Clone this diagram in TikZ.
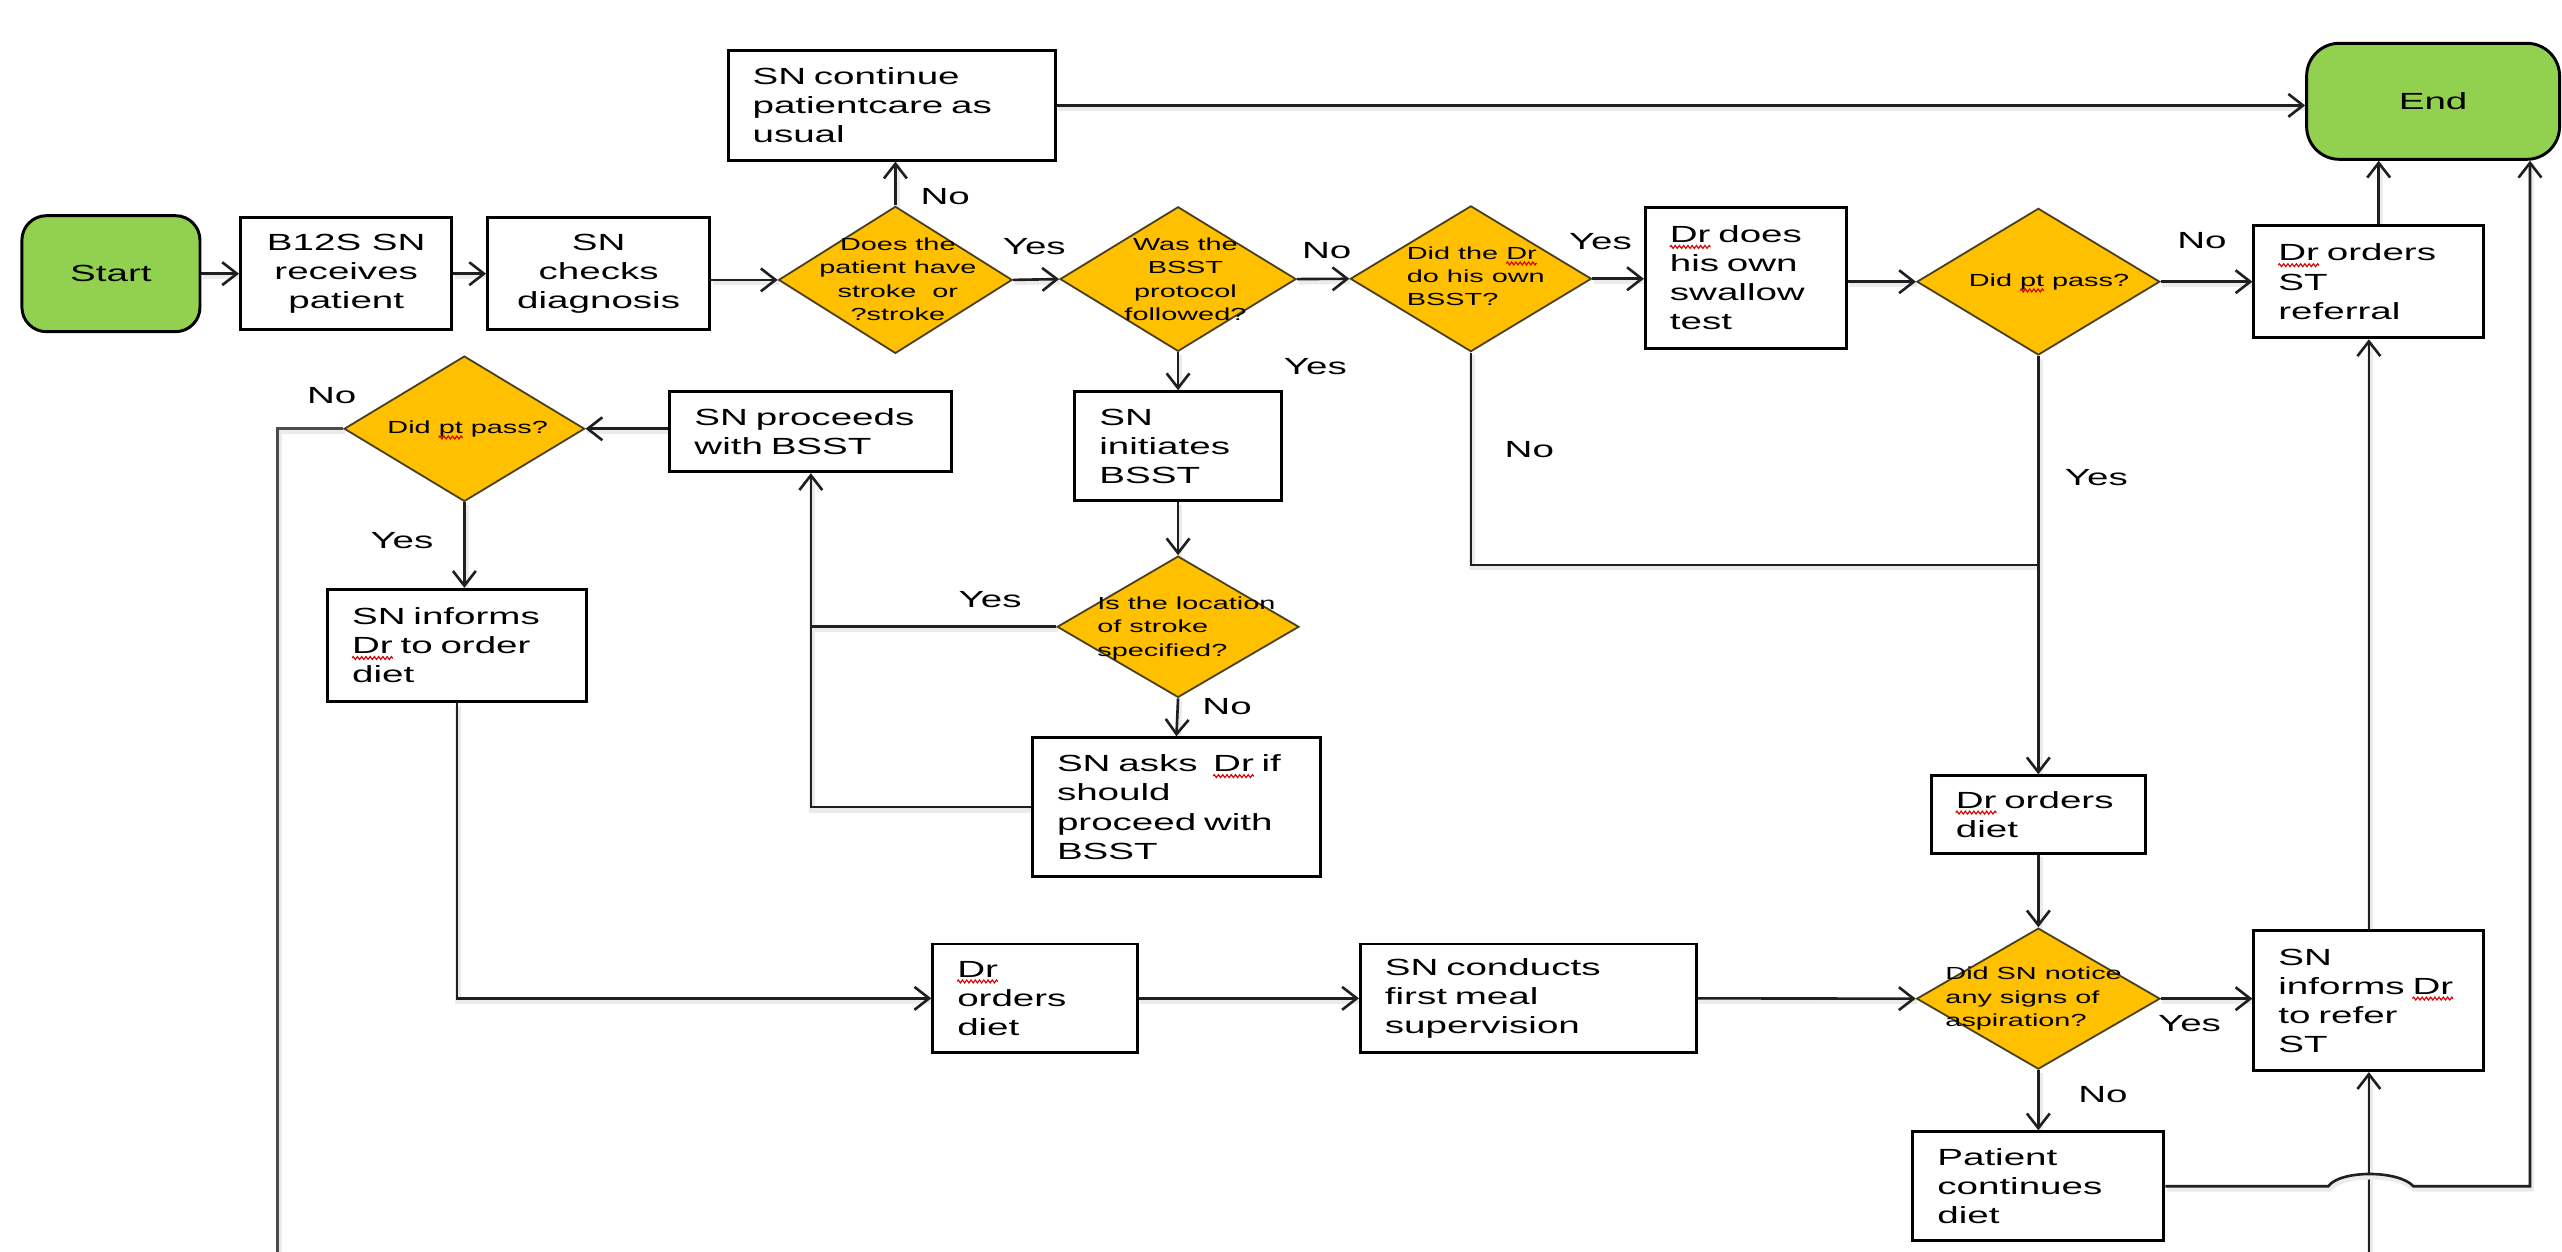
\documentclass[tikz,border=0pt]{standalone}
\usepackage{fontspec}
\setmainfont{Liberation Sans}[FakeStretch=1.65]
\usetikzlibrary{arrows.meta,shapes.geometric,backgrounds,decorations.pathmorphing}
\definecolor{dgold}{HTML}{FFC000}
\definecolor{dgreen}{HTML}{92D050}
\definecolor{dborder}{HTML}{4A3F1C}
\newcommand\bxfont{\fontsize{14.3}{17.8}\selectfont}
\newcommand\dmfont{\fontsize{10.7}{14.3}\selectfont}
\newsavebox\sqbox
\newcommand\redsq[1]{\sbox\sqbox{#1}\leavevmode\rlap{\usebox\sqbox}\tikz[baseline=0pt,x=1pt,y=1pt]{\path[use as bounding box] (0,0) rectangle (\the\wd\sqbox,1);\draw[red!85!black,line width=0.7pt,decorate,decoration={zigzag,amplitude=0.9pt,segment length=2.6pt}] (0,-2.6) -- (\the\wd\sqbox,-2.6);}}
\begin{document}
\begin{tikzpicture}[x=1pt,y=-1pt,
  every node/.style={inner sep=0pt},
  box/.style={draw=black, line width=1.8pt, fill=white, font=\bxfont},
  lbox/.style={box, align=left, inner xsep=15pt},
  cbox/.style={box, align=center},
  dia/.style={diamond, draw=dborder, line width=1.1pt, fill=dgold},
  dtxt/.style={font=\dmfont, text=black},
  term/.style={draw=black, line width=1.8pt, fill=dgreen, font=\bxfont},
  lab/.style={font=\bxfont, anchor=base},
  shadowed/.style={preaction={draw=black!8, line width=3.5pt, arrows=-, transform canvas={xshift=0.8pt,yshift=-1.6pt}}},
  conn/.style={line width=1.6pt, draw=black!88, shadowed},
  arr/.style={conn, -{Straight Barb[length=9pt,width=14pt]}}
]
\useasboundingbox (0,0) rectangle (1568,766);

% terminators
\node[term, rounded corners=15pt, minimum width=109pt, minimum height=71pt] (start) at (67.9,167.5) {Start};
\node[term, rounded corners=20pt, minimum width=154.8pt, minimum height=71pt] (end) at (1489.1,62) {End};

% process boxes
\node[cbox, minimum width=129.4pt, minimum height=68.4pt] (b12s) at (211.9,167.5) {B12S SN\\receives\\patient};
\node[cbox, minimum width=136pt, minimum height=68.4pt] (checks) at (366.4,167.5) {SN\\checks\\diagnosis};
\node[lbox, minimum width=200.4pt, minimum height=67pt, text width=170.4pt] (cont) at (545.8,64.5) {SN~continue\\patientcare~as\\usual};
\node[lbox, minimum width=123pt, minimum height=86pt, text width=93pt] (drdoes) at (1068.5,170.1) {\redsq{Dr}~does\\his~own\\swallow\\test};
\node[lbox, minimum width=140.8pt, minimum height=68.7pt, text width=110.8pt] (drst) at (1449.8,172.4) {\redsq{Dr}~orders\\ST\\referral};
\node[lbox, minimum width=172.5pt, minimum height=49pt, text width=142.5pt] (proceeds) at (496.25,264.2) {SN~proceeds\\with~BSST};
\node[lbox, minimum width=126.3pt, minimum height=66.8pt, text width=96.3pt] (initiates) at (721,273.1) {SN\\initiates\\BSST};
\node[lbox, minimum width=158.2pt, minimum height=68.7pt, text width=128.2pt] (informs) at (279.6,395) {SN~informs\\\redsq{Dr}~to~order\\diet};
\node[lbox, minimum width=176.2pt, minimum height=85pt, text width=146.2pt] (asks) at (720,494) {SN~asks~~\redsq{Dr}~if\\should\\proceed~with\\BSST};
\node[lbox, minimum width=125.3pt, minimum height=66.5pt, text width=95.3pt] (drdiet) at (633.5,611) {\redsq{Dr}\\orders\\diet};
\node[lbox, minimum width=205.4pt, minimum height=66.5pt, text width=175.4pt] (conducts) at (935.3,611) {SN~conducts\\first~meal\\supervision};
\node[lbox, minimum width=140.8pt, minimum height=85.5pt, text width=110.8pt] (informst) at (1449.8,612.5) {SN\\informs~\redsq{Dr}\\to~refer\\ST};
\node[lbox, minimum width=153.6pt, minimum height=66.7pt, text width=123.6pt] (patient) at (1247.5,726) {Patient\\continues\\diet};
\node[lbox, minimum width=131pt, minimum height=47.5pt, text width=101pt] (drdiet2) at (1247.5,498.5) {\redsq{Dr}~orders\\diet};

% decisions
\node[dia, minimum width=143pt, minimum height=90pt] (d1) at (548,171.3) {};
\node[dia, minimum width=144.5pt, minimum height=88.5pt] (d2) at (721,170.8) {};
\node[dia, minimum width=147.6pt, minimum height=89.2pt] (d3) at (900.2,170.6) {};
\node[dia, minimum width=148.7pt, minimum height=89.8pt] (d4) at (1247.5,172.4) {};
\node[dia, minimum width=147.2pt, minimum height=89pt] (d5) at (284.2,262.4) {};
\node[dia, minimum width=148pt, minimum height=86.5pt] (d6) at (721,383.6) {};
\node[dia, minimum width=149pt, minimum height=86.3pt] (d7) at (1247.5,611.2) {};

\node[dtxt, align=center] (d1t) at (549.5,171) {Does the\\patient have\\stroke~~or\\?stroke};
\node[dtxt, align=center] (d2t) at (725.5,171) {Was the\\BSST\\protocol\\followed?};
\node[dtxt, align=left, anchor=west] (d3t) at ([xshift=35pt,yshift=1.5pt]d3.west) {Did~the~\redsq{Dr}\\do~his~own\\BSST?};
\node[dtxt] (d4t) at ([xshift=6.5pt]d4.center) {Did~\redsq{pt}~pass?};
\node[dtxt] (d5t) at ([xshift=2pt]d5.center) {Did~\redsq{pt}~pass?};
\node[dtxt, align=left, anchor=west] (d6t) at ([xshift=25pt,yshift=-1pt]d6.west) {Is~the~location\\of~stroke\\specified?};
\node[dtxt, align=left, anchor=west] (d7t) at ([xshift=18pt]d7.west) {Did~SN~notice\\any~signs~of\\aspiration?};

% branch labels
\node[lab] (l1) at (578.5,125) {No};
\node[lab] (l2) at (633,156) {Yes};
\node[lab] (l3) at (812,158) {No};
\node[lab] (l4) at (805,229) {Yes};
\node[lab] (l5) at (979.5,152.6) {Yes};
\node[lab] (l6) at (936,280) {No};
\node[lab] (l7) at (1347.6,152) {No};
\node[lab] (l8) at (1283,297) {Yes};
\node[lab] (l9) at (203,246.7) {No};
\node[lab] (l10) at (246,335.5) {Yes};
\node[lab] (l11) at (606,372) {Yes};
\node[lab] (l12) at (751,437.5) {No};
\node[lab] (l13) at (1340,631.5) {Yes};
\node[lab] (l14) at (1287,674.5) {No};

% helper coordinates
\coordinate (j1) at (1247.5,345.8);
\coordinate (offL) at (170,775);
\coordinate (offR) at (1449.8,775);
\coordinate (jumpL) at (1425,726);
\coordinate (jumpR) at (1477,726);
\coordinate (endR) at ([xshift=-19pt]end.south east);

\begin{scope}[on background layer]
\draw[arr] (start) -- (b12s);
\draw[arr] (b12s) -- (checks);
\draw[arr] (checks.east |- d1.west) -- (d1.west);
\draw[arr] (d1.north) -- (d1.north |- cont.south);
\draw[arr] (cont.east) -- (cont.east -| end.west);
\draw[arr] (d1.east) -- (d2.west);
\draw[arr] (d2.east) -- (d3.west);
\draw[arr] (d2.south) -- (initiates.north);
\draw[arr] (d3.east) -- (d3.east -| drdoes.west);
\draw[arr] (drdoes.east |- d4.west) -- (d4.west);
\draw[arr] (d4.east) -- (d4.east -| drst.west);
\draw[arr] ([xshift=6pt]drst.north) -- ([xshift=6pt]drst.north |- end.south);
\draw[conn] (d3.south) -- (d3.south |- j1) -- (j1);
\draw[arr] (d4.south) -- (drdiet2.north);
\draw[arr] (drdiet2.south) -- (d7.north);
\draw[arr] (d7.east) -- (d7.east -| informst.west);
\draw[arr] (d7.south) -- (patient.north);
\draw[arr] (offR) -- (informst.south);
\draw[arr] (informst.north) -- (drst.south);
\draw[arr] (patient.east) -- (jumpL) .. controls +(7,-10) and +(-9,-10) .. (jumpR) -- (jumpR -| endR) -- (endR);
\draw[arr] (proceeds.west |- d5.east) -- (d5.east);
\draw[arr] (d5.south) -- (d5.south |- informs.north);
\draw[conn, draw=black!70] (d5.west) -- (d5.west -| offL) -- (offL);
\draw[arr] (initiates.south) -- (d6.north);
\draw[arr] (d6.south) -- (asks.north);
\draw[arr] (d6.west) -| (proceeds.south);
\draw[conn] (asks.west) -| (proceeds.south |- d6.west);
\draw[arr] (informs.south) |- (drdiet.west);
\draw[arr] (drdiet.east) -- (conducts.west);
\draw[arr] (conducts.east) -- (d7.west);
\end{scope}
\end{tikzpicture}
\end{document}
